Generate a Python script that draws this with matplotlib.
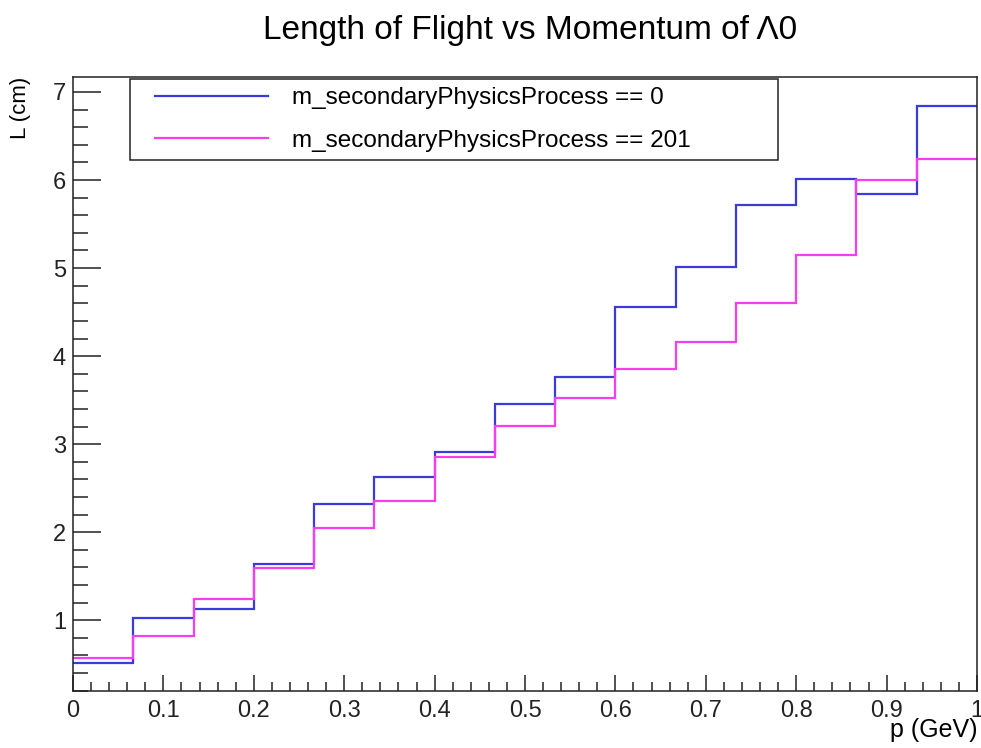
import numpy as np
import matplotlib
matplotlib.use('Agg')
import matplotlib.pyplot as plt
from matplotlib.ticker import MultipleLocator
from matplotlib.patches import Rectangle

plt.rcParams['font.family'] = ['Liberation Sans', 'DejaVu Sans']

# 15 bins in p (GeV) from 0 to 1
n_bins = 15
p_min, p_max = 0.0, 1.0

# mean flight length (cm) per bin
L_proc0 = [0.51, 1.03, 1.13, 1.64, 2.32, 2.63, 2.91, 3.46, 3.76,
           4.56, 5.01, 5.72, 6.01, 5.84, 6.84]
L_proc201 = [0.57, 0.82, 1.24, 1.59, 2.05, 2.35, 2.85, 3.21, 3.52,
             3.85, 4.16, 4.60, 5.15, 6.00, 6.24]

labels = ['m_secondaryPhysicsProcess == 0', 'm_secondaryPhysicsProcess == 201']

edges = np.linspace(p_min, p_max, n_bins + 1)

W, H = 981, 748
fig = plt.figure(figsize=(W / 100, H / 100), dpi=100)
ax_l, ax_r, ax_t, ax_b = 73, 977, 77, 690.7
ax = fig.add_axes([ax_l / W, 1 - ax_b / H, (ax_r - ax_l) / W, (ax_b - ax_t) / H])

def to_axes(px, py):
    # pixel position in the figure -> axes fraction
    return (px - ax_l) / (ax_r - ax_l), (ax_b - py) / (ax_b - ax_t)

# baseline=None -> no drop to zero at the ends, like ROOT's hist outline
ax.stairs(L_proc0, edges, baseline=None, color='#3b3bdc', lw=1.6, label=labels[0])
ax.stairs(L_proc201, edges, baseline=None, color='#f83cf0', lw=1.6, label=labels[1])

ax.set_xlim(0, 1)
ax.set_ylim(0.2, 7.17)

ax.xaxis.set_major_locator(MultipleLocator(0.1))
ax.xaxis.set_minor_locator(MultipleLocator(0.02))
ax.yaxis.set_major_locator(MultipleLocator(1))
ax.yaxis.set_minor_locator(MultipleLocator(0.2))
ax.xaxis.set_major_formatter(plt.FuncFormatter(lambda v, _: f'{v:g}'))

ax.tick_params(axis='both', which='both', direction='in', top=False, right=False,
               labelsize=17, width=1.1, colors='#222222')
ax.tick_params(axis='y', which='major', length=20, pad=5)
ax.tick_params(axis='y', which='minor', length=11)
ax.tick_params(axis='x', which='major', length=11.3, pad=7)
ax.tick_params(axis='x', which='minor', length=6.5)
for s in ax.spines.values():
    s.set_linewidth(1.1)
    s.set_color('#222222')

ax.set_xlabel('p (GeV)', fontsize=18, loc='right', labelpad=-3)
ax.set_ylabel('L (cm)', fontsize=16, loc='top', labelpad=16)

fig.text(530 / W, 1 - 30 / H, 'Length of Flight vs Momentum of \u039b0',
         fontsize=24, ha='center', va='center')

# legend box drawn by hand (ROOT TLegend has wide side margins)
x0, y0 = to_axes(130, 160)
x1, y1 = to_axes(778, 79)
ax.add_patch(Rectangle((x0, y0), x1 - x0, y1 - y0, transform=ax.transAxes,
                       facecolor='white', edgecolor='#222222', lw=1.1, zorder=4))
lx, ly = to_axes(155, 119.5)
leg = ax.legend(loc='center left', bbox_to_anchor=(lx, ly),
                fontsize=17.5, frameon=False, handlelength=4.65, handletextpad=1.0,
                borderpad=0, labelspacing=0.85, borderaxespad=0.0)
leg.set_zorder(5)

fig.savefig('out.png', dpi=100)
